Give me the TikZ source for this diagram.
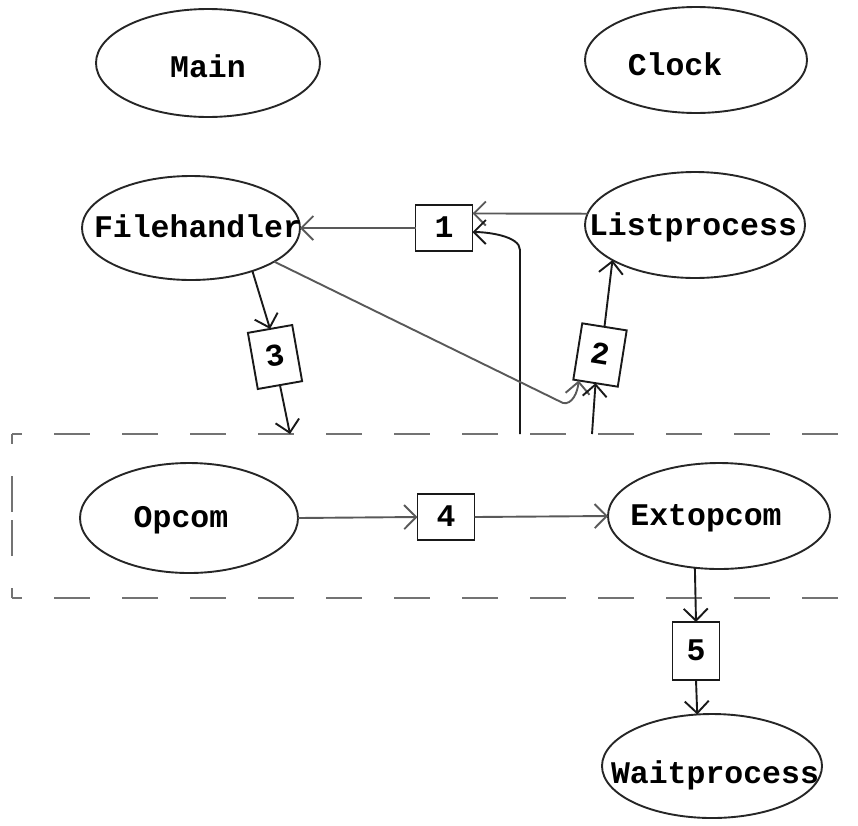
\documentclass[tikz,border=0pt]{standalone}
\usepackage{fontspec}
\setmonofont{Liberation Mono}
\usetikzlibrary{shapes.geometric,arrows.meta,calc}
\newcommand{\lbl}[3]{\makebox[0pt]{\hspace*{#1}\raisebox{#2}{#3}}}
\begin{document}
\begin{tikzpicture}[x=1pt,y=-1pt,
  txt/.style={font=\ttfamily\bfseries\fontsize{31.5}{36}\selectfont, text height=18pt, text depth=0pt},
  proc/.style={txt, draw=black!85, line width=1.9pt, ellipse, inner sep=0pt, outer sep=0pt},
  msg/.style={txt, draw=black!90, line width=1.9pt, rectangle, inner sep=0pt, outer sep=0pt,
              minimum width=57pt, minimum height=46pt},
  conn/.style={draw=black!90, line width=1.9pt,
               -{Straight Barb[length=12pt,width=24pt,line width=1.9pt]}},
  hconn/.style={conn, draw=black!65},
  grp/.style={draw=black!55, line width=1.4pt, dash pattern=on 36pt off 32pt, dash phase=26pt}]
\useasboundingbox (0,0) rectangle (858,825);

% processes
\node[proc, minimum width=224pt, minimum height=108pt] (main)  at (208,63)  {\lbl{0pt}{-5pt}{Main}};
\node[proc, minimum width=222pt, minimum height=106pt] (clock) at (696,60)  {\lbl{-42pt}{-6pt}{Clock}};
\node[proc, minimum width=218pt, minimum height=104pt] (fh)    at (191,228) {\lbl{14pt}{0pt}{Filehandler}};
\node[proc, minimum width=220pt, minimum height=106pt] (lp)    at (695,225) {\lbl{-4pt}{-1pt}{Listprocess}};
\node[proc, minimum width=218pt, minimum height=110pt] (op)    at (189,518) {\lbl{-16pt}{0pt}{Opcom}};
\node[proc, minimum width=222pt, minimum height=106pt] (ex)    at (719,516) {\lbl{-26pt}{0pt}{Extopcom}};
\node[proc, minimum width=220pt, minimum height=104pt] (wp)    at (712,766) {\lbl{6pt}{-8pt}{Waitprocess}};

% messages
\node[msg] (b1) at (444,228) {1};
\node[msg, minimum width=45pt, minimum height=57pt, rotate=-9] (b2) at (600,355) {2};
\node[msg, minimum width=45pt, minimum height=57pt, rotate=10] (b3) at (275,357) {3};
\node[msg] (b4) at (446,517) {4};
\node[msg, minimum width=47pt, minimum height=58pt] (b5) at (696,651) {5};

% dashed group
\coordinate (gtl) at (12,434);
\coordinate (gbl) at (12,598);
\coordinate (gml) at (12,516);
\coordinate (gtr) at (880,434);
\coordinate (gbr) at (880,598);
\draw[grp] (gtl) -- (gtr);
\draw[grp] (gtl) -- (gml);
\draw[grp] (gbl) -- (gml);
\draw[grp] (gbl) -- (gbr);
\coordinate (d1) at (520,434);
\coordinate (d2) at (592,434);
\coordinate (d3) at (290,434);
\coordinate (bend2) at (563,403);

% connectors
\draw[hconn] (lp.174) -- (b1.27);
\draw[hconn] (b1.west) -- (fh.east);
\draw[conn] (d1) -- ++(0,-184) .. controls +(0,-14) and +(15,0) .. (b1.-8);
\draw[hconn] (fh.-22) -- (bend2) .. controls +(9,2) and +(-1,12) .. ($(b2.south west)!0.12!(b2.south east)$);
\draw[conn] (d2) -- (b2.south);
\draw[conn] (b2.north) -- (lp.203);
\draw[conn] (fh.-35) -- (b3.north);
\draw[conn] (b3.south) -- (d3);
\draw[hconn] (op.east) -- (b4.west);
\draw[hconn] (b4.east) -- (ex.west);
\draw[conn] (ex.-115) -- (b5.north);
\draw[conn] (b5.south) -- (wp.106);
\end{tikzpicture}
\end{document}
